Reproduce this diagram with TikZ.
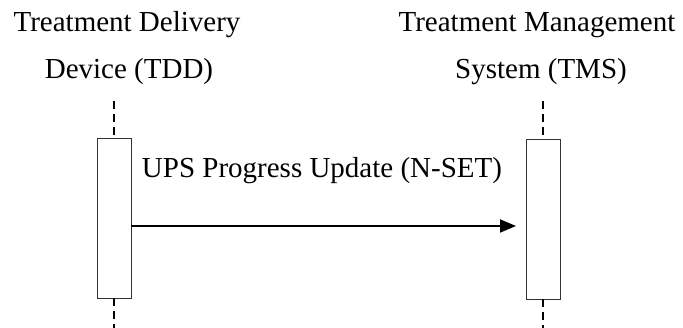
\documentclass[tikz,border=0pt]{standalone}
\usepackage{fontspec}
\setmainfont{Liberation Serif}
\usepackage{tikz}
\usetikzlibrary{arrows.meta,positioning}

\begin{document}
\begin{tikzpicture}[x=1pt,y=1pt,font=\fontsize{29}{35}\selectfont,
  head/.style={anchor=base,inner sep=0pt},
  act/.style={rectangle,draw=black!80,fill=white,line width=0.9pt,minimum width=34pt,minimum height=160pt,inner sep=0pt},
  life/.style={draw,line width=1.4pt,dash pattern=on 8pt off 5pt},
  msg/.style={draw,line width=1.8pt,-{Triangle[length=16pt,width=13pt]}}]
\useasboundingbox (0,0) rectangle (683,328);
% participants
\node[head](tddname) at (127,296){Treatment Delivery};
\node[head](tddsub) at (129,249){Device (TDD)};
\node[head](tmsname) at (537,296){Treatment Management};
\node[head](tmssub) at (541,249){System (TMS)};
% activation boxes
\node[act](tddbox) at (114,110){};
\node[act](tmsbox) at (543,109){};
% lifelines
\coordinate (tddtop) at (114,227);
\coordinate (tddbot) at (114,0);
\coordinate (tmstop) at (543,227);
\coordinate (tmsbot) at (543,0);
\draw[life](tddtop)--(tddbox.north);
\draw[life](tddbox.south)--(tddbot);
\draw[life](tmstop)--(tmsbox.north);
\draw[life](tmsbox.south)--(tmsbot);
% message
\coordinate (msgend) at (516,102);
\draw[msg](tddbox.east |- msgend)--(msgend);
\node[head](msglabel) at (322,150){UPS Progress Update (N-SET)};
\end{tikzpicture}
\end{document}
